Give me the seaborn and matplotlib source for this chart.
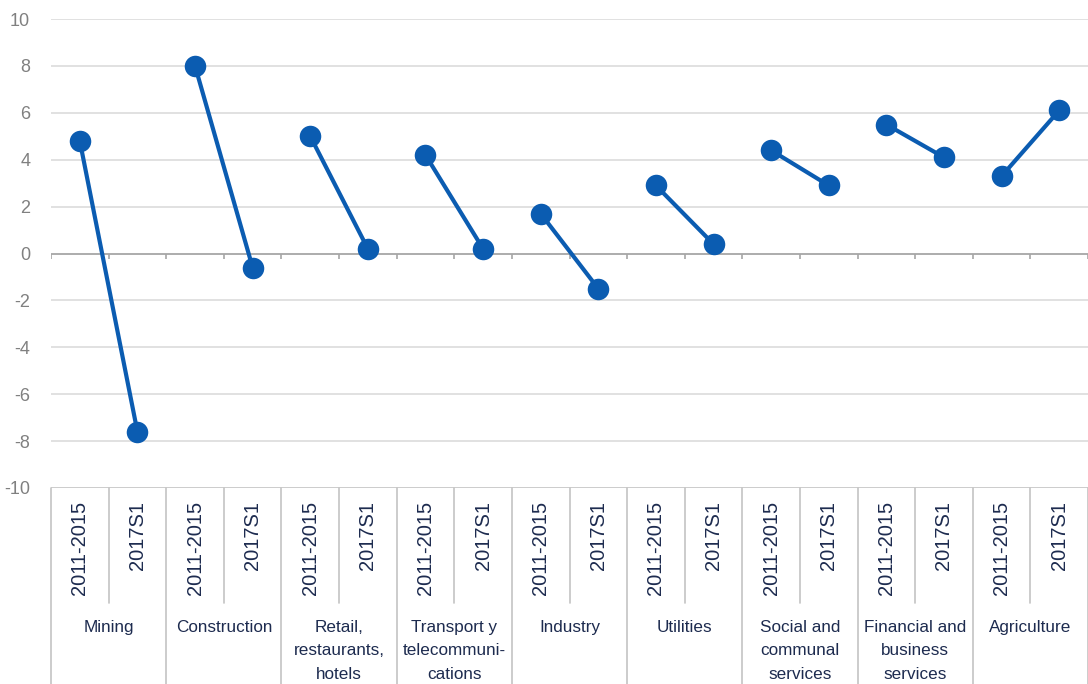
import matplotlib
matplotlib.use("Agg")
import matplotlib.pyplot as plt
import matplotlib.transforms as mtransforms
import seaborn as sns
import pandas as pd
import numpy as np

sectors = ["Mining", "Construction", "Retail,\nrestaurants,\nhotels",
           "Transport y\ntelecommuni-\ncations", "Industry", "Utilities",
           "Social and\ncommunal\nservices", "Financial and\nbusiness\nservices",
           "Agriculture"]
periods = ["2011-2015", "2017S1"]
values_2011_2015 = [4.8, 8.0, 5.0, 4.2, 1.7, 2.9, 4.4, 5.5, 3.3]
values_2017S1 = [-7.6, -0.6, 0.2, 0.2, -1.5, 0.4, 2.9, 4.1, 6.1]
yticks = [-10, -8, -6, -4, -2, 0, 2, 4, 6, 8, 10]

rows = []
for i, s in enumerate(sectors):
    for j, (p, v) in enumerate(zip(periods, [values_2011_2015[i], values_2017S1[i]])):
        rows.append({"sector": s, "period": p, "pos": 2 * i + j, "value": v})
df = pd.DataFrame(rows)

sns.set_theme(style="white")
plt.rcParams["font.family"] = ["Liberation Sans", "DejaVu Sans"]

fig = plt.figure(figsize=(10.88, 6.84), dpi=100)
ax = fig.add_axes([51 / 1088, 1 - 488 / 684, 1 - 51 / 1088, (488 - 19) / 684])

blue = "#0b5cb1"
for y in yticks:
    if y == 0:
        continue
    ax.axhline(y, color="#dcdcdc" if y != -10 else "#c4c4c4", lw=1.2, zorder=0)
ax.axhline(0, color="#a6a6a6", lw=1.3, zorder=1)

n = len(df)
bounds = np.arange(-0.5, n, 1.0)
ax.vlines(bounds, -0.22, 0, color="#a6a6a6", lw=1.2, zorder=1)

sns.lineplot(data=df, x="pos", y="value", units="sector", estimator=None,
             color=blue, lw=3, marker="o", markersize=15.5, markeredgewidth=0,
             ax=ax, zorder=3, legend=False)

ax.set_xlim(-0.5, n - 0.5)
ax.set_ylim(-10, 10)
ax.set_xticks([])
ax.set_yticks(yticks)
ax.set_yticklabels([str(t) for t in yticks], color="#808080", fontsize=13)
ax.tick_params(axis="y", length=0, pad=15)
ax.set_xlabel("")
ax.set_ylabel("")
for sp in ax.spines.values():
    sp.set_visible(False)

trans = mtransforms.blended_transform_factory(ax.transData, fig.transFigure)
y_axis_bottom = 1 - 488 / 684
for b in bounds:
    k = int(round(b + 0.5))
    y_end = 0.0 if k % 2 == 0 else 1 - 603 / 684
    ax.plot([b, b], [y_axis_bottom, y_end], transform=trans, color="#c4c4c4",
            lw=1.2, clip_on=False)

navy = "#1d2b4f"
for _, r in df.iterrows():
    ax.text(r["pos"], 1 - 501 / 684, r["period"], rotation=90, ha="center", va="top",
            transform=trans, fontsize=14.5, color=navy)
for i, s in enumerate(sectors):
    ax.text(2 * i + 0.5, 1 - 620 / 684, s, ha="center", va="top", transform=trans,
            fontsize=12.3, color=navy, linespacing=1.7)

fig.savefig("out.png", dpi=100)
